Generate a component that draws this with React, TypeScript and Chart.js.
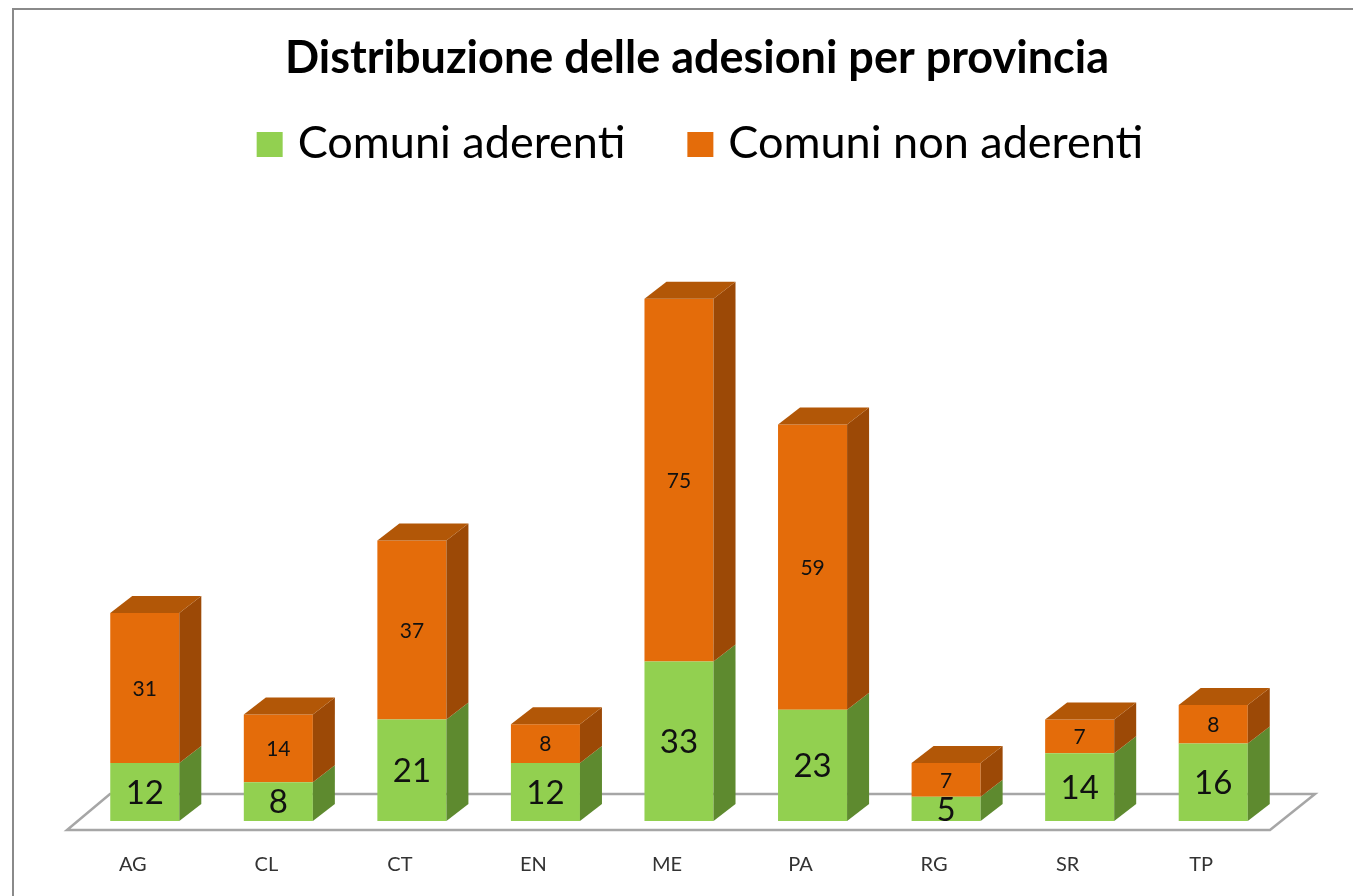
import { useEffect, useRef } from "react";
import { Chart, registerables } from "chart.js";

Chart.register(...registerables);

const TITLE = "Distribuzione delle adesioni per provincia";
const categories = ["AG", "CL", "CT", "EN", "ME", "PA", "RG", "SR", "TP"];
const aderenti = [12, 8, 21, 12, 33, 23, 5, 14, 16];
const nonAderenti = [31, 14, 37, 8, 75, 59, 7, 7, 8];
const seriesNames = ["Comuni aderenti", "Comuni non aderenti"];
const Y_MAX = 110;

const FRONT = ["#92D050", "#E46C0A"];
const SIDE = ["#5E8A2F", "#9C4906"];
const TOP = ["#78AC3E", "#B25707"];
const LABEL_SIZE = [33, 21];

const DX = 22;
const DY = 17;
const FONT = "Lato, 'Open Sans', sans-serif";

const framePlugin = {
  id: "frame",
  beforeDraw(chart: any) {
    const ctx = chart.ctx;
    ctx.save();
    ctx.fillStyle = "#ffffff";
    ctx.fillRect(0, 0, chart.width, chart.height);
    ctx.strokeStyle = "#8a8a8a";
    ctx.lineWidth = 2;
    ctx.beginPath();
    ctx.moveTo(13, chart.height);
    ctx.lineTo(13, 9);
    ctx.lineTo(chart.width, 9);
    ctx.stroke();
    ctx.restore();
  },
};

const floorPlugin = {
  id: "floor",
  beforeDatasetsDraw(chart: any) {
    const { ctx, chartArea } = chart;
    const base = chart.scales.y.getPixelForValue(0);
    const front = base + 9;
    const back = base - 27;
    ctx.save();
    ctx.beginPath();
    ctx.moveTo(chartArea.left - 11, front);
    ctx.lineTo(chartArea.right - 10, front);
    ctx.lineTo(chartArea.right + 35, back);
    ctx.lineTo(chartArea.left + 32, back);
    ctx.closePath();
    ctx.fillStyle = "#ffffff";
    ctx.fill();
    ctx.strokeStyle = "#a6a6a6";
    ctx.lineWidth = 2.5;
    ctx.lineJoin = "miter";
    ctx.stroke();
    ctx.restore();
  },
};

const cubePlugin = {
  id: "cube",
  afterDatasetsDraw(chart: any) {
    const ctx = chart.ctx;
    const nDs = chart.data.datasets.length;
    ctx.save();
    for (let d = 0; d < nDs; d++) {
      const meta = chart.getDatasetMeta(d);
      meta.data.forEach((el: any) => {
        const p = el.getProps(["x", "y", "base", "width"], true);
        const R = p.x + p.width / 2;
        const t = Math.min(p.y, p.base);
        const b = Math.max(p.y, p.base);
        if (b - t <= 0) return;
        ctx.beginPath();
        ctx.moveTo(R, t);
        ctx.lineTo(R + DX, t - DY);
        ctx.lineTo(R + DX, b - DY);
        ctx.lineTo(R, b);
        ctx.closePath();
        ctx.fillStyle = SIDE[d];
        ctx.fill();
      });
    }
    const nCat = chart.data.labels.length;
    for (let i = 0; i < nCat; i++) {
      let top = -1;
      for (let d = 0; d < nDs; d++) {
        if ((chart.data.datasets[d].data[i] as number) > 0) top = d;
      }
      if (top < 0) continue;
      const el = chart.getDatasetMeta(top).data[i];
      const p = el.getProps(["x", "y", "base", "width"], true);
      const L = p.x - p.width / 2;
      const R = p.x + p.width / 2;
      const t = Math.min(p.y, p.base);
      ctx.beginPath();
      ctx.moveTo(L, t);
      ctx.lineTo(L + DX, t - DY);
      ctx.lineTo(R + DX, t - DY);
      ctx.lineTo(R, t);
      ctx.closePath();
      ctx.fillStyle = TOP[top];
      ctx.fill();
    }
    for (let d = 0; d < nDs; d++) {
      const meta = chart.getDatasetMeta(d);
      ctx.font = `${LABEL_SIZE[d]}px ${FONT}`;
      ctx.fillStyle = "#111111";
      ctx.textAlign = "center";
      ctx.textBaseline = "middle";
      meta.data.forEach((el: any, i: number) => {
        const v = chart.data.datasets[d].data[i];
        const p = el.getProps(["x", "y", "base"], true);
        ctx.fillText(String(v), p.x, (p.y + p.base) / 2 + 1);
      });
    }
    ctx.restore();
  },
};

const legendPlugin = {
  id: "customLegend",
  afterDraw(chart: any) {
    const ctx = chart.ctx;
    const tb = chart.titleBlock;
    const cx = tb ? (tb.left + tb.right) / 2 + 3 : chart.width / 2;
    const boxW = 26;
    const boxH = 25;
    const gap = 15;
    const spacing = 62;
    ctx.save();
    ctx.font = `45px ${FONT}`;
    const widths = seriesNames.map((s) => ctx.measureText(s).width);
    let total = 0;
    widths.forEach((w, i) => {
      total += boxW + gap + w + (i > 0 ? spacing : 0);
    });
    let x = cx - total / 2;
    const yMid = 144.5;
    seriesNames.forEach((s, i) => {
      ctx.fillStyle = FRONT[i];
      ctx.fillRect(x, yMid - boxH / 2, boxW, boxH);
      x += boxW + gap;
      ctx.fillStyle = "#000000";
      ctx.textAlign = "left";
      ctx.textBaseline = "middle";
      ctx.fillText(s, x, yMid - 1);
      x += widths[i] + spacing;
    });
    ctx.restore();
  },
};

export default function App() {
  const ref = useRef<HTMLCanvasElement>(null);
  useEffect(() => {
    const canvas = ref.current!;
    const chart = new Chart(canvas, {
      type: "bar",
      data: {
        labels: categories,
        datasets: [
          {
            label: seriesNames[0],
            data: aderenti,
            backgroundColor: FRONT[0],
            borderWidth: 0,
            barPercentage: 0.517,
            categoryPercentage: 1,
          },
          {
            label: seriesNames[1],
            data: nonAderenti,
            backgroundColor: FRONT[1],
            borderWidth: 0,
            barPercentage: 0.517,
            categoryPercentage: 1,
          },
        ],
      },
      options: {
        responsive: false,
        animation: false,
        devicePixelRatio: 1,
        layout: { padding: { left: 41, right: 0, top: 0, bottom: 20 } },
        plugins: {
          title: {
            display: true,
            text: TITLE,
            color: "#000000",
            font: { family: FONT, size: 45, weight: "bold", lineHeight: 1.2 },
            padding: { top: 31, bottom: 204 },
          },
          legend: { display: false },
          tooltip: { enabled: false },
        },
        scales: {
          x: {
            stacked: true,
            grid: { display: false, drawTicks: false },
            border: { display: false },
            ticks: {
              font: { family: FONT, size: 20 },
              color: "#333333",
              padding: 32,
              labelOffset: -12,
            },
            afterFit: (s: any) => {
              s.height = 55;
            },
          },
          y: {
            stacked: true,
            min: 0,
            max: Y_MAX,
            display: true,
            ticks: { display: false },
            grid: { display: false, drawTicks: false },
            border: { display: false },
            afterFit: (s: any) => {
              s.width = 37;
            },
          },
          yRight: {
            type: "linear",
            position: "right",
            display: true,
            ticks: { display: false },
            grid: { display: false, drawTicks: false },
            border: { display: false },
            afterFit: (s: any) => {
              s.width = 73;
            },
          },
        },
      } as any,
      plugins: [framePlugin, floorPlugin, cubePlugin, legendPlugin],
    });
    return () => chart.destroy();
  }, []);
  return (
    <div
      style={{
        position: "fixed",
        left: 0,
        top: 0,
        width: 1353,
        height: 896,
        overflow: "hidden",
        background: "#fff",
      }}
    >
      <canvas ref={ref} width={1353} height={896} style={{ display: "block" }} />
    </div>
  );
}
